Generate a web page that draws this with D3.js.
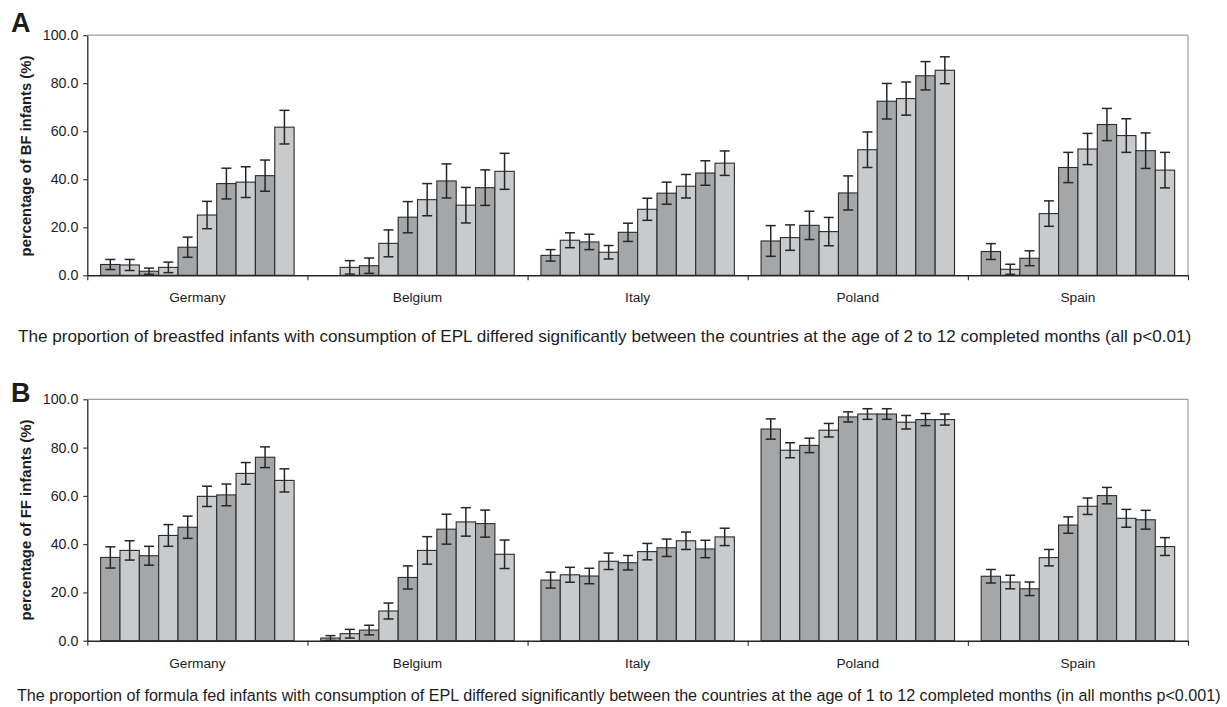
<!DOCTYPE html>
<html><head><meta charset="utf-8">
<script src="https://cdn.jsdelivr.net/npm/d3@7"></script>
<style>
body{margin:0;background:#fff}
svg{display:block}
text{font-family:"Liberation Sans",Arial,sans-serif;fill:#1c1c1c}
</style>
</head><body>
<svg id="c" width="1227" height="707"></svg>
<script>
// ---------- DATA ----------
const countries = ["Germany", "Belgium", "Italy", "Poland", "Spain"];
const ageBars = ["b1","b2","b3","b4","b5","b6","b7","b8","b9","b10"];
const yTicks = [0, 20, 40, 60, 80, 100];

// Panel A: breastfed infants (%)
const bfGermany = [4.5, 4.3, 1.7, 3.3, 11.7, 25.1, 38.2, 38.8, 41.5, 61.7];
const bfGermanyErr = [2.1, 2.3, 1.3, 2.2, 4.2, 5.7, 6.4, 6.4, 6.5, 7.0];
const bfBelgium = [null, 3.3, 4.0, 13.3, 24.2, 31.5, 39.3, 29.2, 36.5, 43.3];
const bfBelgiumErr = [0, 2.8, 3.2, 5.6, 6.5, 6.7, 7.1, 7.4, 7.4, 7.5];
const bfItaly = [8.3, 14.6, 13.9, 9.6, 17.9, 27.5, 34.2, 37.1, 42.6, 46.7];
const bfItalyErr = [2.4, 3.1, 3.2, 2.8, 3.8, 4.6, 4.6, 4.9, 5.1, 5.1];
const bfPoland = [14.3, 15.7, 20.8, 18.2, 34.3, 52.3, 72.5, 73.6, 83.1, 85.4];
const bfPolandErr = [6.4, 5.3, 5.9, 5.9, 7.1, 7.4, 7.4, 6.9, 5.9, 5.6];
const bfSpain = [9.9, 2.5, 7.1, 25.7, 44.9, 52.6, 62.8, 58.2, 51.9, 43.8];
const bfSpainErr = [3.3, 2.1, 3.1, 5.3, 6.3, 6.5, 6.7, 7.0, 7.4, 7.4];

// Panel B: formula fed infants (%)
const ffGermany = [34.5, 37.4, 35.2, 43.6, 47.0, 59.8, 60.4, 69.3, 76.0, 66.4];
const ffGermanyErr = [4.4, 4.0, 3.9, 4.5, 4.6, 4.2, 4.5, 4.5, 4.3, 4.8];
const ffBelgium = [1.1, 2.9, 4.4, 12.3, 26.2, 37.4, 46.2, 49.2, 48.5, 35.8];
const ffBelgiumErr = [1.0, 1.8, 2.0, 3.3, 4.8, 5.7, 6.2, 5.9, 5.6, 5.9];
const ffItaly = [25.1, 27.3, 26.8, 32.9, 32.3, 36.9, 38.5, 41.4, 38.0, 43.0];
const ffItalyErr = [3.3, 3.1, 3.2, 3.4, 3.0, 3.4, 3.6, 3.6, 3.6, 3.6];
const ffPoland = [87.7, 78.9, 80.9, 87.2, 92.7, 93.9, 93.9, 90.5, 91.6, 91.6];
const ffPolandErr = [4.2, 3.1, 3.0, 2.8, 2.1, 2.2, 2.2, 2.8, 2.5, 2.3];
const ffSpain = [26.7, 24.3, 21.5, 34.4, 47.9, 55.7, 60.1, 50.7, 50.1, 39.0];
const ffSpainErr = [2.8, 2.8, 2.8, 3.4, 3.4, 3.4, 3.4, 3.7, 3.9, 3.7];

const panelLetters = ["A", "B"];
const yTitles = ["percentage of BF infants (%)", "percentage of FF infants (%)"];
const captions = [
  "The proportion of breastfed infants with consumption of EPL differed significantly between the countries at the age of 2 to 12 completed months (all p<0.01)",
  "The proportion of formula fed infants with consumption of EPL differed significantly between the countries at the age of 1 to 12 completed months (in all months p<0.001)"
];

// ---------- DRAW ----------
const svg = d3.select("#c");
const darkFill = "#a5a6a8", lightFill = "#c9cacc", ink = "#262626";

const panels = [
  { values: [bfGermany, bfBelgium, bfItaly, bfPoland, bfSpain],
    errs: [bfGermanyErr, bfBelgiumErr, bfItalyErr, bfPolandErr, bfSpainErr],
    top: 35.2, bottom: 275.3, letter: panelLetters[0], letterY: 32,
    title: yTitles[0], titleY: 156, labelY: 302, caption: captions[0],
    capX: 18, capW: 1174, capY: 342 },
  { values: [ffGermany, ffBelgium, ffItaly, ffPoland, ffSpain],
    errs: [ffGermanyErr, ffBelgiumErr, ffItalyErr, ffPolandErr, ffSpainErr],
    top: 399.3, bottom: 640.7, letter: panelLetters[1], letterY: 402,
    title: yTitles[1], titleY: 520, labelY: 668, caption: captions[1],
    capX: 17, capW: 1205, capY: 701 }
];

const left = 87.3, right = 1188;

function fitText(sel, target, base) {
  const n = sel.node().getComputedTextLength();
  sel.style("font-size", (base * target / n) + "px");
}

panels.forEach(p => {
  const g = svg.append("g");
  const y = d3.scaleLinear().domain([0, 100]).range([p.bottom, p.top]);
  const x0 = d3.scaleBand().domain(countries).range([left, right]).padding(0);
  const x1 = d3.scaleBand().domain(ageBars).range([0, x0.bandwidth()])
    .paddingInner(0).paddingOuter(0.69);

  // plot frame (top/right light grey)
  g.append("line").attr("x1", left).attr("x2", right).attr("y1", p.top).attr("y2", p.top)
    .attr("stroke", "#9c9c9c").attr("stroke-width", 1.2);
  g.append("line").attr("x1", right).attr("x2", right).attr("y1", p.top).attr("y2", p.bottom)
    .attr("stroke", "#9c9c9c").attr("stroke-width", 1.2);

  // bars
  countries.forEach((c, ci) => {
    const cg = g.append("g").attr("transform", `translate(${x0(c)},0)`);
    const rows = ageBars.map((b, i) => ({ b, i, v: p.values[ci][i], e: p.errs[ci][i] }))
      .filter(d => d.v !== null);
    cg.selectAll("rect").data(rows).join("rect")
      .attr("x", d => x1(d.b))
      .attr("y", d => y(d.v))
      .attr("width", x1.bandwidth())
      .attr("height", d => y(0) - y(d.v))
      .attr("fill", d => d.i % 2 === 0 ? darkFill : lightFill)
      .attr("stroke", "#2b2b2b").attr("stroke-width", 1.1);
    const eg = cg.selectAll("g.err").data(rows).join("g").attr("class", "err")
      .attr("stroke", ink).attr("stroke-width", 1.5);
    eg.append("line")
      .attr("x1", d => x1(d.b) + x1.bandwidth() / 2).attr("x2", d => x1(d.b) + x1.bandwidth() / 2)
      .attr("y1", d => y(d.v + d.e)).attr("y2", d => y(Math.max(0, d.v - d.e)));
    eg.append("line")
      .attr("x1", d => x1(d.b) + x1.bandwidth() / 2 - 5).attr("x2", d => x1(d.b) + x1.bandwidth() / 2 + 5)
      .attr("y1", d => y(d.v + d.e)).attr("y2", d => y(d.v + d.e));
    eg.append("line")
      .attr("x1", d => x1(d.b) + x1.bandwidth() / 2 - 5).attr("x2", d => x1(d.b) + x1.bandwidth() / 2 + 5)
      .attr("y1", d => y(Math.max(0, d.v - d.e))).attr("y2", d => y(Math.max(0, d.v - d.e)));
  });

  // y axis
  const ya = g.append("g").attr("transform", `translate(${left},0)`)
    .call(d3.axisLeft(y).tickValues(yTicks).tickFormat(d3.format(".1f")).tickSizeInner(4).tickSizeOuter(0).tickPadding(5));
  ya.select(".domain").attr("stroke", ink).attr("stroke-width", 1.3);
  ya.selectAll(".tick line").attr("stroke", ink).attr("stroke-width", 1.1);
  ya.selectAll(".tick text").style("font-size", "14.2px").attr("fill", "#1c1c1c")
    .style("font-family", '"Liberation Sans", Arial, sans-serif');

  // x axis with boundary ticks
  const xb = d3.scaleLinear().domain([0, countries.length]).range([left, right]);
  const xa = g.append("g").attr("transform", `translate(0,${p.bottom})`)
    .call(d3.axisBottom(xb).tickValues(d3.range(countries.length + 1)).tickFormat("").tickSizeInner(5).tickSizeOuter(0));
  xa.select(".domain").attr("stroke", ink).attr("stroke-width", 1.4);
  xa.selectAll(".tick line").attr("stroke", ink).attr("stroke-width", 1.1);

  // category labels
  g.selectAll("text.cat").data(countries).join("text").attr("class", "cat")
    .attr("x", d => x0(d) + x0.bandwidth() / 2).attr("y", p.labelY)
    .attr("text-anchor", "middle").style("font-size", "13.7px").text(d => d);

  // y title
  const yt = g.append("text")
    .attr("transform", `translate(31,${p.titleY}) rotate(-90)`)
    .attr("text-anchor", "middle").style("font-weight", "bold").style("font-size", "13px")
    .text(p.title);
  fitText(yt, 201, 13);

  // panel letter
  g.append("text").attr("x", 11).attr("y", p.letterY)
    .style("font-weight", "bold").style("font-size", "27px").attr("fill", "#111").text(p.letter);

  // caption
  const cap = g.append("text").attr("x", p.capX).attr("y", p.capY)
    .style("font-size", "13px").text(p.caption);
  fitText(cap, p.capW, 13);
});
</script>
</body></html>
